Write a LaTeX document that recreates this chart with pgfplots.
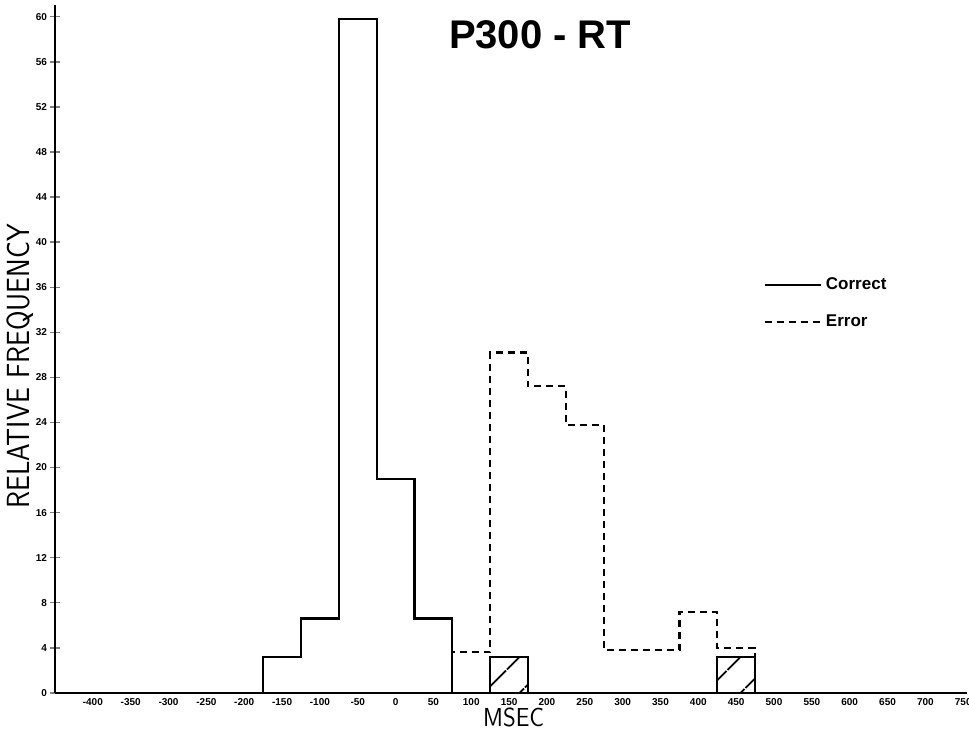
\documentclass[border=0pt]{standalone}
\usepackage{fontspec}
\usepackage{pgfplots}
\pgfplotsset{compat=1.18}
\usetikzlibrary{patterns.meta}
\newfontfamily\hel{Liberation Sans}
\begin{document}
\begin{tikzpicture}
\begin{axis}[
  name=ax,
  scale only axis, width=456pt, height=343.7pt,
  xmin=-450, xmax=755, ymin=0, ymax=61,
  axis lines=left, axis line style={-, line width=0.8pt},
  xtick={-400,-350,...,750}, xtick style={draw=none},
  ytick={0,4,...,60}, ytick style={line width=0.7pt},
  tick align=center, major tick length=5pt,
  /pgf/number format/assume math mode=true,
  ticklabel style={font=\hel\bfseries\fontsize{5}{6}\selectfont},
  xticklabel style={yshift=3pt},
  yticklabel style={xshift=2pt},
  clip=false,
  ylabel={\scalebox{0.88}[1]{RELATIVE FREQUENCY}},
  ylabel style={at={(axis description cs:-0.0385,0.475)}, anchor=center, font=\sffamily\fontsize{16}{18}\selectfont},
  legend style={at={(axis cs:478,37.6)}, anchor=north west, draw=none, fill=none,
    font=\hel\bfseries\fontsize{8.5}{10}\selectfont, row sep=7pt},
  legend cell align=left,
  legend image code/.code={\draw[#1] (0pt,0pt) -- (28pt,0pt);},
]
% Correct
\addplot[const plot mark left, black, line width=1.1pt] coordinates {
  (-175,0) (-175,3.2) (-125,6.6) (-75,59.8) (-25,19) (25,6.6) (75,0)};
\addlegendentry{Correct}
% Error
\addplot[const plot mark left, black, line width=1.1pt, dash pattern=on 3.5pt off 2.5pt] coordinates {
  (75,0) (75,3.6) (125,30.2) (175,27.2) (225,23.8) (275,3.8) (325,3.8) (375,7.2) (425,4.0) (475,0)};
\addlegendentry{Error}
% Correct (hatched) bins within the error range
\addplot[forget plot, black, line width=1.1pt, pattern={Lines[angle=45,distance=13pt,line width=1pt]}] coordinates {
  (125,0) (125,3.2) (175,3.2) (175,0)} \closedcycle;
\addplot[forget plot, black, line width=1.1pt, pattern={Lines[angle=45,distance=13pt,line width=1pt]}] coordinates {
  (425,0) (425,3.2) (475,3.2) (475,0)} \closedcycle;
\node[font=\hel\bfseries\fontsize{20}{24}\selectfont] at (axis cs:191,58.4) {P300 - RT};
\node[font=\sffamily\fontsize{13}{15}\selectfont, inner sep=1pt] at (axis cs:156,-2.2) {\scalebox{0.9}[1]{MSEC}};
\end{axis}
\pgfresetboundingbox
\path ([xshift=-27.5pt,yshift=-20.5pt]ax.south west) rectangle ([xshift=1pt,yshift=2.75pt]ax.north east);
\end{tikzpicture}
\end{document}
